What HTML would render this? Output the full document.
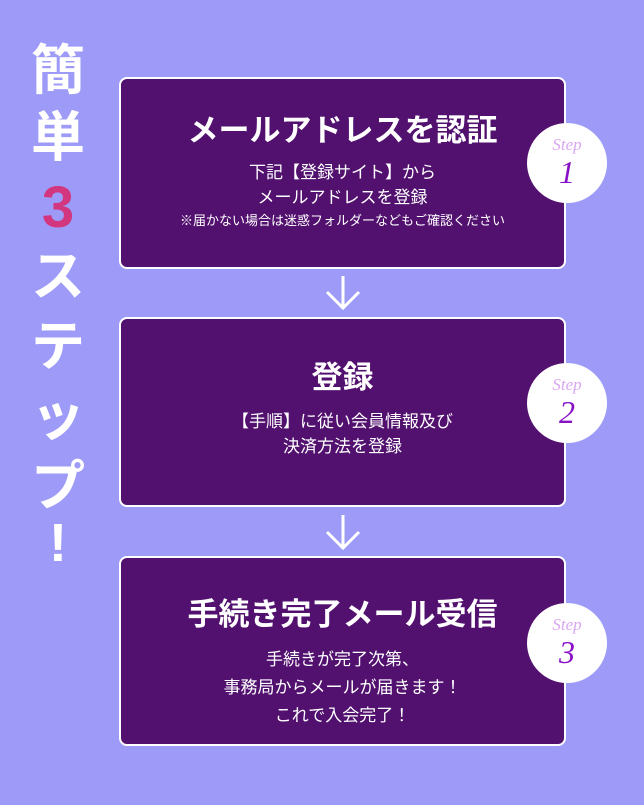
<!DOCTYPE html>
<html><head><meta charset="utf-8"><style>
body{margin:0;width:644px;height:805px;background:#9e9bf8;position:relative;overflow:hidden;font-family:"Liberation Sans","Noto Sans CJK JP",sans-serif;}
.v{position:absolute;left:29px;width:58px;text-align:center;color:#fff;font-weight:bold;font-size:54px;line-height:70px;}
.box{position:absolute;left:119px;width:447px;background:#52106f;border:2px solid #fff;border-radius:8px;color:#fff;text-align:center;box-sizing:border-box;}
.box h2{margin:0;font-size:31px;font-weight:bold;line-height:40px;}
.box p{margin:0;font-size:17px;line-height:25px;}
.c{position:absolute;left:527px;width:80px;height:80px;border-radius:50%;background:#fff;text-align:center;font-family:"Liberation Serif",serif;font-style:italic;}
.c .s{color:#d9a6f2;font-size:17px;margin-top:12px;line-height:20px;}
.c .n{color:#8a10c8;font-size:32px;line-height:34px;}
</style></head><body>
<div class="v" style="top:36px">簡</div>
<div class="v" style="top:103px">単</div>
<div class="v" style="top:173px;color:#d2367e;font-size:58px">3</div>
<div class="v" style="top:242px">ス</div>
<div class="v" style="top:312px">テ</div>
<div class="v" style="top:382px">ッ</div>
<div class="v" style="top:452px">プ</div>
<div class="v" style="top:508px">!</div>

<div class="box" style="top:77px;height:192px;padding-top:32px">
<h2>メールアドレスを認証</h2>
<p style="margin-top:9px">下記【登録サイト】から<br>メールアドレスを登録</p>
<p style="font-size:13px;line-height:22px">※届かない場合は迷惑フォルダーなどもご確認ください</p>
</div>
<div class="box" style="top:317px;height:190px;padding-top:39px">
<h2>登録</h2>
<p style="margin-top:11px">【手順】に従い会員情報及び<br>決済方法を登録</p>
</div>
<div class="box" style="top:556px;height:190px;padding-top:37px">
<h2>手続き完了メール受信</h2>
<p style="margin-top:11px;line-height:28px">手続きが完了次第、<br>事務局からメールが届きます！<br>これで入会完了！</p>
</div>

<div class="c" style="top:123px"><div class="s">Step</div><div class="n">1</div></div>
<div class="c" style="top:363px"><div class="s">Step</div><div class="n">2</div></div>
<div class="c" style="top:603px"><div class="s">Step</div><div class="n">3</div></div>

<svg width="644" height="805" style="position:absolute;left:0;top:0" fill="none" stroke="#fff" stroke-width="3">
<path d="M343 276V308M327 292L343 308L359 292"/>
<path d="M343 515V548M327 532L343 548L359 532"/>
</svg>
</body></html>
